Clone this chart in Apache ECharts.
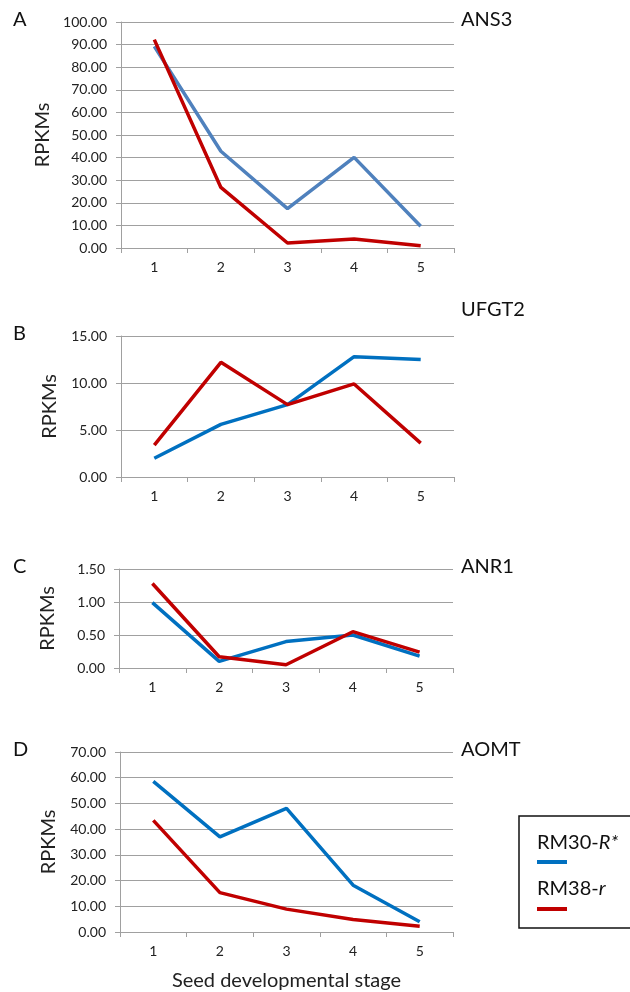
<!DOCTYPE html>
<html>
<head>
<meta charset="utf-8">
<script src="https://cdn.jsdelivr.net/npm/echarts@6/dist/echarts.min.js"></script>
<style>
  html, body { margin: 0; padding: 0; background: #fff; }
  #main { width: 630px; height: 992px; }
</style>
</head>
<body>
<div id="main"></div>
<script>
  // seed developmental stages
  var stages = ['1', '2', '3', '4', '5'];
  var seriesNames = ['RM30-R*', 'RM38-r'];
  var panelLetters = ['A', 'B', 'C', 'D'];
  var genes = ['ANS3', 'UFGT2', 'ANR1', 'AOMT'];

  // RPKMs per gene, RM30-R* then RM38-r
  var ans3R = [89.2, 42.8, 17.4, 40.1, 9.6];
  var ans3r = [92.2, 26.8, 2.2, 4.0, 1.0];
  var ufgt2R = [2.0, 5.6, 7.7, 12.8, 12.5];
  var ufgt2r = [3.4, 12.2, 7.7, 9.9, 3.6];
  var anr1R = [0.99, 0.10, 0.40, 0.50, 0.18];
  var anr1r = [1.28, 0.17, 0.05, 0.55, 0.24];
  var aomtR = [58.6, 37.0, 48.1, 18.2, 4.0];
  var aomtr = [43.4, 15.3, 8.9, 4.9, 2.2];

  var yMax = [100, 15, 1.5, 70];
  var yStep = [10, 5, 0.5, 10];

  var dataR = [ans3R, ufgt2R, anr1R, aomtR];
  var datar = [ans3r, ufgt2r, anr1r, aomtr];

  // layout of each panel
  var grids = [
    { left: 121, right: 176, top: 22, height: 226 },
    { left: 121, right: 176, top: 336, height: 141 },
    { left: 119, right: 177, top: 569, height: 99 },
    { left: 120, right: 177, top: 752, height: 180 }
  ];
  var blueCols = ['#4F81BD', '#0070C0', '#0070C0', '#0070C0'];
  var redCol = '#C00000';
  var gray = '#A0A0A0';
  var font = 'Lato, "Open Sans", sans-serif';

  var xAxes = [], yAxes = [], series = [], graphics = [];

  for (let i = 0; i < 4; i++) {
    xAxes.push({
      type: 'category',
      gridIndex: i,
      data: stages,
      boundaryGap: true,
      axisLine: { lineStyle: { color: gray, width: 1 } },
      axisTick: { show: true, length: 5, lineStyle: { color: gray } },
      axisLabel: { color: '#222', fontSize: 14, fontFamily: font, margin: 12 },
      name: i === 3 ? 'Seed developmental stage' : '',
      nameLocation: 'middle',
      nameGap: 39,
      nameTextStyle: { color: '#222', fontSize: 20, fontFamily: font }
    });
    yAxes.push({
      type: 'value',
      gridIndex: i,
      min: 0,
      max: yMax[i],
      interval: yStep[i],
      axisLine: { show: true, lineStyle: { color: gray, width: 1 } },
      axisTick: { show: true, length: 5, lineStyle: { color: gray } },
      splitLine: { lineStyle: { color: gray, width: 1 } },
      axisLabel: {
        color: '#222', fontSize: 14, fontFamily: font, margin: 14,
        formatter: function (v) { return v.toFixed(2); }
      },
      name: 'RPKMs',
      nameLocation: 'middle',
      nameRotate: 90,
      nameGap: 61,
      nameTextStyle: { color: '#222', fontSize: 20, fontFamily: font }
    });
    series.push({
      name: seriesNames[0], type: 'line', xAxisIndex: i, yAxisIndex: i,
      data: dataR[i], showSymbol: false, symbol: 'none',
      lineStyle: { color: blueCols[i], width: 3.5 }, z: 2
    });
    series.push({
      name: seriesNames[1], type: 'line', xAxisIndex: i, yAxisIndex: i,
      data: datar[i], showSymbol: false, symbol: 'none',
      lineStyle: { color: redCol, width: 3.5 }, z: 3
    });
    graphics.push({
      type: 'text', left: 13, top: grids[i].top - 12,
      style: { text: panelLetters[i], fontSize: 20, fontFamily: font, fill: '#111' }
    });
    graphics.push({
      type: 'text', left: 461, top: grids[i].top - 12 + (i === 1 ? -24 : 0),
      style: { text: genes[i], fontSize: 20, fontFamily: font, fill: '#111' }
    });
  }

  // legend box, bottom right
  graphics.push({
    type: 'rect', shape: { x: 519, y: 816, width: 130, height: 112 },
    style: { fill: '#fff', stroke: '#111', lineWidth: 1.5 }
  });
  graphics.push({
    type: 'text', x: 537, y: 833,
    style: {
      text: '{n|RM30-}{i|R*}',
      rich: {
        n: { fontSize: 20, fontFamily: font, fill: '#111' },
        i: { fontSize: 20, fontFamily: font, fontStyle: 'italic', fill: '#111' }
      }
    }
  });
  graphics.push({
    type: 'line', shape: { x1: 537, y1: 862, x2: 567, y2: 862 },
    style: { stroke: blueCols[1], lineWidth: 4 }
  });
  graphics.push({
    type: 'text', x: 537, y: 879,
    style: {
      text: '{n|RM38-}{i|r}',
      rich: {
        n: { fontSize: 20, fontFamily: font, fill: '#111' },
        i: { fontSize: 20, fontFamily: font, fontStyle: 'italic', fill: '#111' }
      }
    }
  });
  graphics.push({
    type: 'line', shape: { x1: 537, y1: 909, x2: 567, y2: 909 },
    style: { stroke: redCol, lineWidth: 4 }
  });

  var myChart = echarts.init(document.getElementById('main'));
  var option = {
    animation: false,
    backgroundColor: '#fff',
    grid: grids,
    xAxis: xAxes,
    yAxis: yAxes,
    series: series,
    graphic: graphics
  };
  myChart.setOption(option);
</script>
</body>
</html>
